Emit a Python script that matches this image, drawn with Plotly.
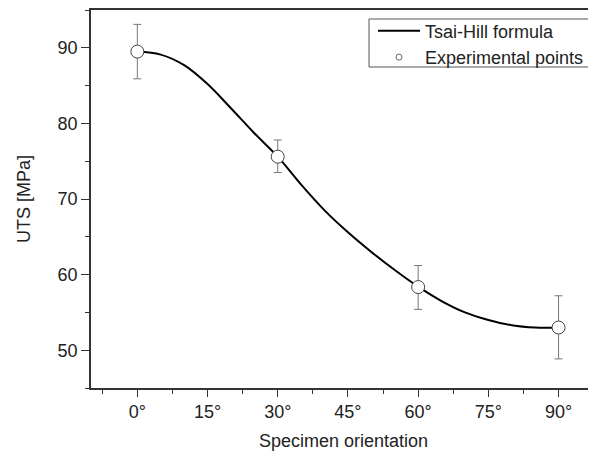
import plotly.graph_objects as go

# Tsai-Hill curve
curve_deg = [0, 5, 10, 15, 20, 25, 30, 35, 40, 45, 50, 55, 60, 65, 70, 75, 80, 85, 90]
curve_uts = [89.5, 89.1, 87.7, 85.2, 82.0, 78.7, 75.6, 71.9, 68.5, 65.6, 63.0, 60.6, 58.4,
             56.5, 55.0, 54.0, 53.3, 53.0, 53.0]

# Experimental points
exp_deg = [0, 30, 60, 90]
exp_uts = [89.5, 75.6, 58.35, 53.0]
err_plus = [3.6, 2.2, 2.85, 4.2]
err_minus = [3.6, 2.1, 2.95, 4.15]

FONT = "Arial, Liberation Sans, sans-serif"
AX = "#333333"
FS = 18

# page body has an 8px margin: figure origin sits at (8, 8) in the window
W, H = 588, 448
L, R, T, B = 83, 0, 2, 68
PW, PH = W - L - R, H - T - B


def px_x(wx):
    return (wx - 8 - L) / PW


def px_y(wy):
    return 1 - (wy - 8 - T) / PH


fig = go.Figure()
fig.add_trace(go.Scatter(
    x=curve_deg, y=curve_uts, mode="lines", name="Tsai-Hill formula",
    line=dict(color="black", width=2, shape="spline"), showlegend=True))
fig.add_trace(go.Scatter(
    x=exp_deg, y=exp_uts, mode="markers", name="Experimental points",
    marker=dict(symbol="circle", size=13, color="white", line=dict(color="#444444", width=1)),
    error_y=dict(type="data", array=err_plus, arrayminus=err_minus, color="#777777",
                 thickness=1, width=4),
    showlegend=False))
# legend-only entry with a small marker
fig.add_trace(go.Scatter(
    x=[None], y=[None], mode="markers", name="Experimental points",
    marker=dict(symbol="circle", size=6, color="white", line=dict(color="#666666", width=1)),
    showlegend=True))

fig.update_layout(
    width=W, height=H,
    margin=dict(l=L, r=R, t=T, b=B),
    paper_bgcolor="white", plot_bgcolor="white",
    font=dict(family=FONT, size=FS, color="#222222"),
    showlegend=True,
    legend=dict(x=px_x(373), y=px_y(12.5), xanchor="left", yanchor="top",
                bgcolor="rgba(0,0,0,0)", borderwidth=0, font=dict(size=FS, family=FONT),
                itemwidth=42, tracegroupgap=0),
    shapes=[dict(type="rect", xref="paper", yref="paper",
                 x0=px_x(369), x1=1.2, y0=px_y(67), y1=px_y(19),
                 line=dict(color="#555555", width=1), fillcolor="rgba(0,0,0,0)")],
)

fig.update_xaxes(
    range=[-9.9, 98], tickmode="linear", tick0=0, dtick=15, ticksuffix="°",
    showline=True, linecolor=AX, linewidth=1.5, mirror=True,
    ticks="outside", ticklen=7, tickwidth=1.2, tickcolor=AX,
    minor=dict(ticks="outside", ticklen=4, tickwidth=1, tickcolor=AX, dtick=7.5, tick0=0),
    showgrid=False, zeroline=False,
    title=dict(text="Specimen orientation", font=dict(size=FS), standoff=13),
    tickfont=dict(size=FS))

fig.update_yaxes(
    range=[45, 95], tickmode="linear", tick0=50, dtick=10,
    showline=True, linecolor=AX, linewidth=1.5, mirror=False,
    ticks="outside", ticklen=8, tickwidth=1.2, tickcolor=AX,
    minor=dict(ticks="outside", ticklen=4, tickwidth=1, tickcolor=AX, dtick=5, tick0=45),
    showgrid=False, zeroline=False,
    title=dict(text="UTS [MPa]", font=dict(size=FS), standoff=22),
    tickfont=dict(size=FS))

fig.write_html("out.html")
